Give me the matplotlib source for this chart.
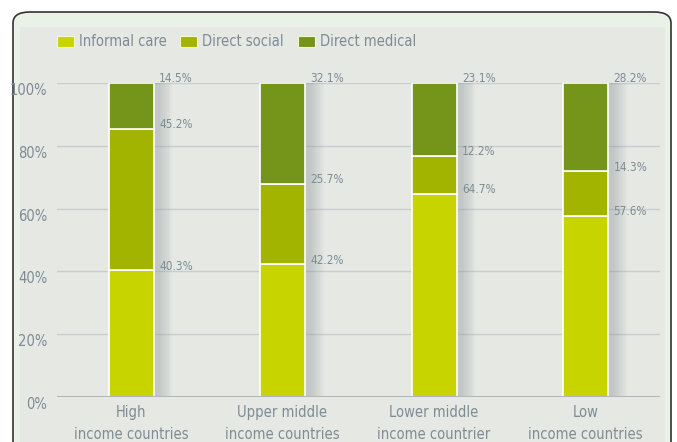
import numpy as np
import matplotlib.pyplot as plt
from matplotlib import font_manager
from matplotlib.patches import FancyBboxPatch, Rectangle

# data
categories = ['High\nincome countries', 'Upper middle\nincome countries',
              'Lower middle\nincome countrier', 'Low\nincome countries']
series_names = ['Informal care', 'Direct social', 'Direct medical']
informal_care = [40.3, 42.2, 64.7, 57.6]
direct_social = [45.2, 25.7, 12.2, 14.3]
direct_medical = [14.5, 32.1, 23.1, 28.2]
y_ticks = [0, 20, 40, 60, 80, 100]
y_tick_labels = ['0%', '20%', '40%', '60%', '80%', '100%']

colors = ['#c8d400', '#a2b300', '#74941a']
text_color = '#7e8b95'

# narrow face if there is one, else Roboto
prefs = ['LiberationSansNarrow-Regular', 'DejaVuSansCondensed.ttf',
         'NotoSans-Condensed', 'RobotoCondensed-Regular', 'OpenSans-Condensed']
files = [f.fname for f in font_manager.fontManager.ttflist]
font_file = None
for p in prefs:
    hits = [f for f in files if p in f and 'Bold' not in f and 'Italic' not in f]
    if hits:
        font_file = sorted(hits, key=len)[0]
        break
if font_file:
    fp = font_manager.FontProperties(fname=font_file)
else:
    fp = font_manager.FontProperties(family=['Roboto', 'DejaVu Sans'])

W, H = 677, 442
fig = plt.figure(figsize=(W / 100, H / 100), dpi=100)
fig.patch.set_facecolor('white')

# outer frame and inner panel
frame = FancyBboxPatch((13 / W, -0.05), 658 / W, (H - 12) / H + 0.05,
                       boxstyle='round,pad=0,rounding_size=0.025',
                       transform=fig.transFigure, facecolor='#eaf2e8',
                       edgecolor='#333333', linewidth=1.2, zorder=-2)
fig.patches.append(frame)
panel = Rectangle((20 / W, 0), 645 / W, (H - 27) / H, transform=fig.transFigure,
                  facecolor='#e5e8e3', edgecolor='none', zorder=-1)
fig.patches.append(panel)

# axes: y 0 at px 397, 100 at px 83; x from px 57 to 660
ax = fig.add_axes([57 / W, (H - 397) / H, 603 / W, 314 / H])
ax.set_zorder(1)
ax.set_facecolor('none')
spacing = 151.5
ax.set_xlim(-(131 - 57) / spacing, 3 + (660 - 585.5) / spacing)
ax.set_ylim(0, 100)
px_x = 1 / spacing
px_y = 100 / 314

x = np.arange(len(categories))
width = 45 * px_x

for t in y_ticks[1:]:
    ax.axhline(t, color='#c9cdd0', lw=1, zorder=1)
ax.axhline(0, color='#aeb6bd', lw=2.2, zorder=4)

# soft shadows
for i in range(len(x)):
    for k in range(8):
        ax.add_patch(Rectangle((x[i] - width / 2 + 4 * px_x, -(2 + k) * px_y),
                               width + (2 + 1.8 * k) * px_x,
                               100 + (3 + 2 * k) * px_y,
                               facecolor='#8a9098', alpha=0.05, lw=0, zorder=2))

bottom = np.zeros(len(x))
for vals, col in zip([informal_care, direct_social, direct_medical], colors):
    ax.bar(x, vals, width, bottom=bottom, color=col, edgecolor='white',
           linewidth=1.2, zorder=3)
    bottom = bottom + np.array(vals)
    for i, v in enumerate(vals):
        ax.annotate(f'{v}%', (x[i] + width / 2, min(bottom[i], 100)),
                    xytext=(4, 3), textcoords='offset points', ha='left',
                    va='center', fontproperties=fp, fontsize=8.5,
                    color=text_color, zorder=5)

ax.set_yticks(y_ticks)
ax.set_yticklabels(y_tick_labels, fontproperties=fp, fontsize=10.5, color=text_color)
ax.tick_params(axis='y', length=0, pad=7)
for lab in ax.get_yticklabels():
    lab.set_va('top')
ax.set_xticks(x)
ax.set_xticklabels(categories, fontproperties=fp, fontsize=10.5, color=text_color,
                   linespacing=1.55)
ax.tick_params(axis='x', length=0, pad=6)
for s in ax.spines.values():
    s.set_visible(False)

# legend
leg_x = [57, 180, 298]
for lx, name, col in zip(leg_x, series_names, colors):
    fig.patches.append(Rectangle((lx / W, (H - 47) / H), 17 / W, 11 / H,
                                 transform=fig.transFigure, facecolor=col,
                                 edgecolor='#f4f7d0', lw=0.8, zorder=2))
    fig.text((lx + 22) / W, (H - 42) / H, name, fontproperties=fp, fontsize=10.5,
             color=text_color, va='center', ha='left')

fig.savefig('out.png', dpi=100)
